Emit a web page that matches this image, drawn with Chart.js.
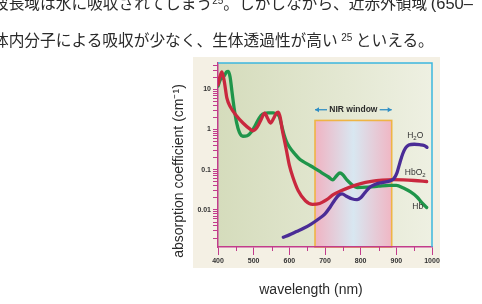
<!DOCTYPE html>
<html><head><meta charset="utf-8">
<script src="https://cdn.jsdelivr.net/npm/chart.js@4/dist/chart.umd.min.js"></script>
<style>
html,body{margin:0;padding:0;background:#fff;width:482px;height:304px;overflow:hidden;}
#wrap{position:absolute;left:0;top:0;width:482px;height:304px;}
.jp{position:absolute;white-space:nowrap;font-family:"Noto Sans CJK JP";font-size:15.7px;line-height:16px;color:#2a2a2a;}
.jp sup{font-family:"Liberation Sans";font-size:10px;vertical-align:0;position:relative;top:-5px;}
.lat{font-family:"Liberation Sans";font-size:16.5px;}
</style></head>
<body>
<div id="wrap"><canvas id="c" width="482" height="304"></canvas></div>
<div class="jp" style="left:-7px;top:-5px">波長域は水に吸収されてしまう<sup>25</sup>。しかしながら、近赤外領域 <span class="lat">(650–</span></div>
<div class="jp" style="left:-7px;top:32px">体内分子による吸収が少なく、生体透過性が高い <sup>25</sup> といえる。</div>
<script>
// ---- data ----
const xTickVals = [400, 500, 600, 700, 800, 900, 1000];
const xMinorTicks = [450, 550, 650, 750, 850, 950];
const yTickLabels = [10, 1, 0.1, 0.01];
const nirWindow = [672, 887];
const nirTop = 1.68;
const nirLabelY = 3.1;

const hbo2X = [400,405,411,418,425,435,450,470,490,498,510,520,531,539,547,556,563,569,575,580,586,592,600,610,625,645,665,685,705,723,745,770,800,830,860,890,920,950,985];
const hbo2Y = [13,20,27,15,6.0,3.6,2.3,1.45,1.02,0.93,1.15,1.7,2.55,1.9,1.45,1.9,2.5,2.7,1.9,1.0,0.55,0.3,0.13,0.065,0.03,0.017,0.0138,0.0145,0.018,0.024,0.03,0.037,0.045,0.051,0.055,0.057,0.056,0.054,0.051];

const hbX = [400,406,412,418,424,429,434,439,445,452,460,470,482,495,505,515,525,540,555,565,572,578,585,592,600,615,630,650,670,690,710,722,732,742,750,762,775,790,820,850,880,900,920,940,958,972,985];
const hbY = [12,17,19,22,27,28,20,9,3.5,1.5,0.85,0.68,0.7,0.9,1.3,1.9,2.4,2.6,2.6,2.4,2.1,1.3,0.75,0.5,0.37,0.25,0.18,0.14,0.11,0.085,0.066,0.056,0.07,0.083,0.075,0.055,0.043,0.036,0.037,0.039,0.041,0.041,0.035,0.028,0.021,0.015,0.0115];

const h2oX = [583,600,620,640,660,680,700,715,728,738,748,760,775,790,800,812,825,840,860,880,893,902,910,918,926,935,950,965,978,986];
const h2oY = [0.0021,0.0024,0.0029,0.0035,0.0044,0.0058,0.008,0.012,0.018,0.023,0.025,0.022,0.019,0.018,0.02,0.027,0.036,0.043,0.048,0.052,0.06,0.085,0.15,0.25,0.35,0.41,0.43,0.42,0.40,0.36];

const seriesLabels = [
  {main:'H', sub:'2', tail:'O', x:953, y:0.70},
  {main:'HbO', sub:'2', tail:'', x:953, y:0.085},
  {main:'Hb', sub:'', tail:'', x:960, y:0.0123}
];

const pts = (xs, ys) => xs.map((v,i)=>({x:v, y:ys[i]}));

const yTicksAll = [];
for (let k=-3;k<=1;k++){ for(let m=1;m<=9;m++){ const v = m*Math.pow(10,k); if (v>=0.0012 && v<=45) yTicksAll.push(v); } }

const MAG = '#c23c8c', CYAN = '#3cb6de';

const decor = {
  id:'decor',
  beforeDraw(chart){
    const {ctx, chartArea:a, scales:{x,y}} = chart;
    ctx.save();
    ctx.fillStyle = '#f4f0e4';
    ctx.fillRect(a.left-25, a.top-6, a.right-a.left+33, a.bottom-a.top+27);
    const g = ctx.createLinearGradient(a.left,0,a.right,0);
    g.addColorStop(0,'#d5dcbc'); g.addColorStop(1,'#eef0e2');
    ctx.fillStyle = g; ctx.fillRect(a.left,a.top,a.right-a.left,a.bottom-a.top);
    const x0 = x.getPixelForValue(nirWindow[0]), x1 = x.getPixelForValue(nirWindow[1]), yt = y.getPixelForValue(nirTop);
    const g2 = ctx.createLinearGradient(x0,0,x1,0);
    g2.addColorStop(0,'#f0b3c2'); g2.addColorStop(0.5,'#d8e7f1'); g2.addColorStop(1,'#f0b6c4');
    ctx.fillStyle = g2; ctx.fillRect(x0,yt,x1-x0,a.bottom-yt);
    ctx.strokeStyle = '#efb444'; ctx.lineWidth = 1.6; ctx.strokeRect(x0,yt,x1-x0,a.bottom-yt);
    ctx.restore();
  },
  afterDraw(chart){
    const {ctx, chartArea:a, scales:{x,y}} = chart;
    ctx.save();
    ctx.strokeStyle = CYAN; ctx.lineWidth = 1.5;
    ctx.beginPath(); ctx.moveTo(a.left, a.top); ctx.lineTo(a.right, a.top); ctx.lineTo(a.right, a.bottom); ctx.stroke();
    ctx.strokeStyle = MAG; ctx.lineWidth = 1;
    xMinorTicks.forEach(v=>{ const px = Math.round(x.getPixelForValue(v))+0.5; ctx.beginPath(); ctx.moveTo(px,a.bottom); ctx.lineTo(px,a.bottom+4); ctx.stroke(); });
    const cx = x.getPixelForValue((nirWindow[0]+nirWindow[1])/2), cy = y.getPixelForValue(nirLabelY);
    ctx.fillStyle = '#2b2b2b'; ctx.font = '600 8.5px "Liberation Sans"'; ctx.textAlign='center'; ctx.textBaseline='middle';
    ctx.fillText('NIR window', cx, cy);
    const xl = x.getPixelForValue(nirWindow[0]), xr = x.getPixelForValue(nirWindow[1]);
    ctx.strokeStyle = '#2f8ec4'; ctx.fillStyle = '#2f8ec4'; ctx.lineWidth = 1.3;
    const arrow = (tip, tail) => {
      ctx.beginPath(); ctx.moveTo(tail, cy); ctx.lineTo(tip, cy); ctx.stroke();
      const d = tip < tail ? 1 : -1;
      ctx.beginPath(); ctx.moveTo(tip, cy); ctx.lineTo(tip + d*4, cy-2.5); ctx.lineTo(tip + d*4, cy+2.5); ctx.closePath(); ctx.fill();
    };
    arrow(xl, xl+12);
    arrow(xr, xr-12);
    ctx.fillStyle = '#333'; ctx.textBaseline='middle'; ctx.textAlign='left';
    seriesLabels.forEach(s=>{
      const f = '8.5px "Liberation Sans"', fs = '6px "Liberation Sans"';
      ctx.font = f; const w1 = ctx.measureText(s.main).width;
      ctx.font = fs; const w2 = ctx.measureText(s.sub).width;
      ctx.font = f; const w3 = ctx.measureText(s.tail).width;
      const tot = w1+w2+w3; let px = x.getPixelForValue(s.x) - tot/2; const py = y.getPixelForValue(s.y);
      ctx.font = f; ctx.fillText(s.main, px, py); px += w1;
      ctx.font = fs; ctx.fillText(s.sub, px, py+2.5); px += w2;
      ctx.font = f; ctx.fillText(s.tail, px, py);
    });
    ctx.fillStyle = '#2a2a2a'; ctx.textAlign='center'; ctx.textBaseline='middle';
    ctx.font = '14px "Liberation Sans"';
    ctx.fillText('wavelength (nm)', (a.left+a.right)/2 - 14, a.bottom + 43);
    ctx.translate(a.left - 39, (a.top+a.bottom)/2 + 16);
    ctx.rotate(-Math.PI/2);
    ctx.font = '14px "Liberation Sans"';
    ctx.fillText('absorption coefficient (cm\u207B\u00B9)', 0, 0);
    ctx.restore();
  }
};

const lineDs = (label, data, color) => ({label, data, borderColor: color, borderWidth: 3.3, pointRadius: 0, fill:false, cubicInterpolationMode:'monotone', borderCapStyle:'round', borderJoinStyle:'round'});

new Chart(document.getElementById('c'), {
  type: 'line',
  data: { datasets: [
    lineDs('H2O', pts(h2oX, h2oY), '#4a2c96'),
    lineDs('HbO2', pts(hbo2X, hbo2Y), '#c9283e'),
    lineDs('Hb', pts(hbX, hbY), '#1f954a')
  ]},
  options: {
    responsive:false, animation:false, devicePixelRatio:1,
    layout:{padding:{left:188, right:50, top:63, bottom:27}},
    plugins:{legend:{display:false}, tooltip:{enabled:false}},
    scales:{
      x:{type:'linear', min:400, max:1000,
        afterBuildTicks: s => { s.ticks = xTickVals.map(v=>({value:v})); },
        afterFit: s => { s.height = 30; },
        ticks:{autoSkip:false, maxRotation:0, padding:2, color:'#333', font:{size:7, weight:'bold', family:'Liberation Sans'}, callback: v => String(v)},
        grid:{drawOnChartArea:false, tickLength:8, color:MAG, tickColor:MAG, tickWidth:1},
        border:{color:MAG, width:1.5}
      },
      y:{type:'logarithmic', min:0.0012, max:45,
        afterBuildTicks: s => { s.ticks = yTicksAll.map(v=>({value:v})); },
        afterFit: s => { s.width = 30; },
        ticks:{autoSkip:false, padding:2, color:'#333', font:{size:7, weight:'bold', family:'Liberation Sans'},
          callback: v => { const m = yTickLabels.find(t => Math.abs(t - v) < t*1e-6); return m === undefined ? '' : String(m); }},
        grid:{drawOnChartArea:false, tickLength:5, color:MAG, tickColor:MAG, tickWidth:1},
        border:{color:MAG, width:1.5}
      }
    }
  },
  plugins:[decor]
});
</script>
</body></html>
